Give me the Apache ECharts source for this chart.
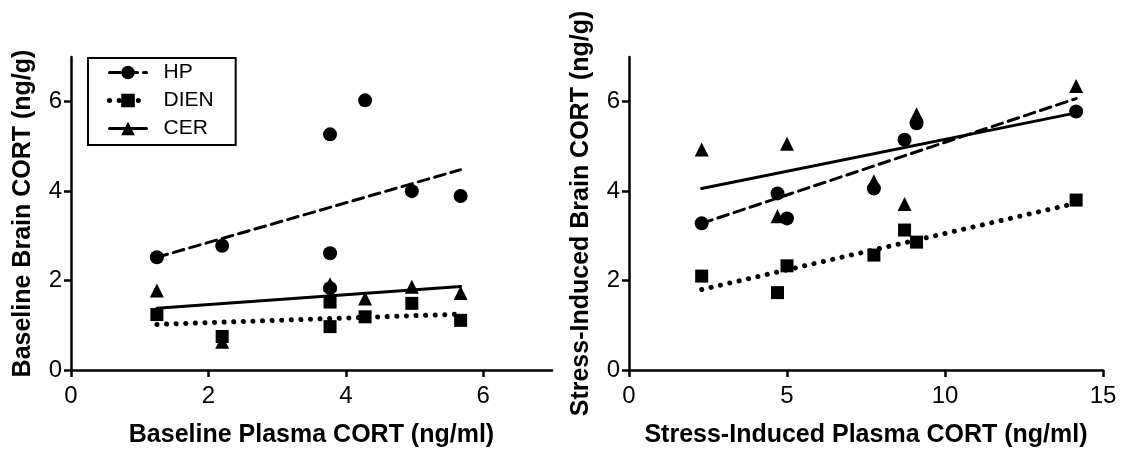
<!DOCTYPE html>
<html>
<head>
<meta charset="utf-8">
<script src="https://cdn.jsdelivr.net/npm/echarts@6/dist/echarts.min.js"></script>
<style>
  html, body { margin: 0; padding: 0; background: #fff; }
  #chart { width: 1125px; height: 454px; }
</style>
</head>
<body>
<div id="chart"></div>
<script>
// baseline panel (left)
const baseHP = [[1.25, 2.52], [2.2, 2.78], [3.77, 5.27], [4.28, 6.03], [3.77, 2.61], [3.77, 1.83], [4.96, 4.0], [5.67, 3.89]];
const baseDIEN = [[1.25, 1.24], [2.2, 0.75], [3.77, 1.52], [3.77, 0.97], [4.28, 1.19], [4.96, 1.49], [5.67, 1.11]];
const baseCER = [[1.25, 1.78], [2.2, 0.63], [3.77, 1.92], [4.28, 1.6], [4.96, 1.86], [5.67, 1.72]];
const baseFitHP = [[1.25, 2.52], [5.67, 4.48]];
const baseFitDIEN = [[1.25, 1.02], [5.67, 1.25]];
const baseFitCER = [[1.25, 1.38], [5.67, 1.87]];

// stress-induced panel (right)
const stressHP = [[2.3, 3.28], [4.7, 3.95], [5.0, 3.39], [7.75, 4.06], [8.72, 5.15], [9.1, 5.52], [14.15, 5.78]];
const stressDIEN = [[2.3, 2.1], [4.7, 1.73], [5.0, 2.33], [7.75, 2.57], [8.72, 3.13], [9.1, 2.86], [14.15, 3.8]];
const stressCER = [[2.3, 4.93], [4.7, 3.44], [5.0, 5.06], [7.75, 4.22], [8.72, 3.71], [9.1, 5.72], [14.15, 6.35]];
const stressFitHP = [[2.3, 3.28], [14.15, 6.07]];
const stressFitDIEN = [[2.3, 1.8], [14.15, 3.73]];
const stressFitCER = [[2.3, 4.06], [14.15, 5.75]];

const baseXTicks = [0, 2, 4, 6];
const stressXTicks = [0, 5, 10, 15];
const yTicks = [0, 2, 4, 6];

const FONT = "Liberation Sans";
const lineDash = { HP: [11, 6], DIEN: [0.1, 9.5], CER: "solid" };
const lineW = { HP: 3, DIEN: 5, CER: 3 };
const symbols = { HP: "circle", DIEN: "rect", CER: "triangle" };
const symSize = { HP: 14, DIEN: 13, CER: 14 };

function xAxis(idx, max, interval, ticks, name) {
  return {
    type: "value", gridIndex: idx, min: 0, max: max, interval: interval,
    name: name, nameLocation: "middle", nameGap: 53,
    nameTextStyle: { fontFamily: FONT, fontSize: 25, fontWeight: "bold", color: "#000" },
    axisLine: { lineStyle: { color: "#000", width: 2.5 } },
    axisTick: { length: 7, lineStyle: { width: 2.5, color: "#000" }, customValues: ticks },
    axisLabel: { fontFamily: FONT, fontSize: 24, color: "#000", margin: 14, customValues: ticks },
    splitLine: { show: false },
  };
}

function yAxis(idx, name) {
  return {
    type: "value", gridIndex: idx, min: 0, max: 7, interval: 2,
    name: name, nameLocation: "middle", nameGap: 35,
    nameTextStyle: { fontFamily: FONT, fontSize: 25, fontWeight: "bold", color: "#000" },
    axisLine: { lineStyle: { color: "#000", width: 2.5 } },
    axisTick: { length: 7, lineStyle: { width: 2.5, color: "#000" }, customValues: yTicks },
    axisLabel: { fontFamily: FONT, fontSize: 24, color: "#000", margin: 9, customValues: yTicks },
    splitLine: { show: false },
  };
}

function fit(name, idx, data) {
  return {
    name: name, type: "line", xAxisIndex: idx, yAxisIndex: idx,
    data: data, symbol: symbols[name], symbolSize: symSize[name], showSymbol: false,
    lineStyle: { color: "#000", width: lineW[name], type: lineDash[name], cap: "round" },
    itemStyle: { color: "#000" },
    silent: true, animation: false, z: 2,
  };
}

function pts(name, idx, data) {
  return {
    name: name, type: "scatter", xAxisIndex: idx, yAxisIndex: idx,
    data: data, symbol: symbols[name], symbolSize: symSize[name],
    itemStyle: { color: "#000", opacity: 1 },
    animation: false, z: 3,
  };
}

const chart = echarts.init(document.getElementById("chart"));
chart.setOption({
  backgroundColor: "#fff",
  grid: [
    { left: 71, top: 57, width: 481, height: 313 },
    { left: 629, top: 57, width: 474, height: 313 },
  ],
  legend: {
    data: ["HP", "DIEN", "CER"],
    orient: "vertical", left: 88, top: 58,
    itemWidth: 37, itemHeight: 17, itemGap: 7,
    padding: [4, 22, 6, 19],
    borderColor: "#000", borderWidth: 2,
    lineStyle: { width: "inherit" },
    textStyle: { fontFamily: FONT, fontSize: 21, color: "#000", padding: [0, 0, 0, 12] },
    selectedMode: false,
  },
  xAxis: [
    xAxis(0, 7, 2, baseXTicks, "Baseline Plasma CORT (ng/ml)"),
    xAxis(1, 15, 5, stressXTicks, "Stress-Induced Plasma CORT (ng/ml)"),
  ],
  yAxis: [
    yAxis(0, "Baseline Brain CORT (ng/g)"),
    yAxis(1, "Stress-Induced Brain CORT (ng/g)"),
  ],
  series: [
    fit("HP", 0, baseFitHP),
    fit("DIEN", 0, baseFitDIEN),
    fit("CER", 0, baseFitCER),
    pts("HP", 0, baseHP),
    pts("DIEN", 0, baseDIEN),
    pts("CER", 0, baseCER),
    fit("HP", 1, stressFitHP),
    fit("DIEN", 1, stressFitDIEN),
    fit("CER", 1, stressFitCER),
    pts("HP", 1, stressHP),
    pts("DIEN", 1, stressDIEN),
    pts("CER", 1, stressCER),
  ],
});
</script>
</body>
</html>
